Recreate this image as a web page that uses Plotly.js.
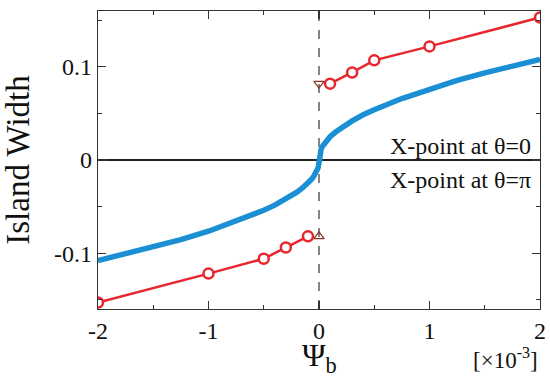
<!DOCTYPE html>
<html>
<head>
<meta charset="utf-8">
<script src="https://cdn.plot.ly/plotly-3.0.1.min.js"></script>
<style>html,body{margin:0;padding:0;background:#fff;}#plot{width:550px;height:377px;}</style>
</head>
<body>
<div id="plot"></div>
<script>
// Blue curve, x in units of 1e-3
var curveX = [-2.0, -1.75, -1.5, -1.25, -1.0, -0.75, -0.5, -0.4, -0.3, -0.2, -0.15, -0.1, -0.07, -0.05, -0.03, -0.02, -0.01, -0.005, -0.002, -0.001, 0, 0.001, 0.002, 0.005, 0.01, 0.02, 0.03, 0.05, 0.07, 0.1, 0.15, 0.2, 0.3, 0.4, 0.5, 0.75, 1.0, 1.25, 1.5, 1.75, 2.0];
var curveY = [-0.108, -0.101, -0.0935, -0.0855, -0.0765, -0.066, -0.054, -0.0485, -0.042, -0.0345, -0.030, -0.025, -0.021, -0.018, -0.0145, -0.012, -0.009, -0.0065, -0.0042, -0.003, 0, 0.003, 0.0042, 0.0065, 0.009, 0.012, 0.0145, 0.018, 0.021, 0.025, 0.030, 0.0345, 0.042, 0.0485, 0.054, 0.066, 0.0765, 0.0855, 0.0935, 0.101, 0.108];
// Red points: X-point at theta=0 (upper) and theta=pi (lower)
var upperX = [0.1, 0.3, 0.5, 1.0, 2.0];
var upperY = [0.082, 0.094, 0.107, 0.122, 0.153];
var lowerX = [-0.1, -0.3, -0.5, -1.0, -2.0];
var lowerY = [-0.082, -0.094, -0.106, -0.122, -0.153];
// Triangles at psi_b = 0
var triDownX = [0], triDownY = [0.082];
var triUpX = [0], triUpY = [-0.082];
var yTickVals = [-0.1, 0, 0.1];
var yTickText = ['-0.1', '0', '0.1'];
var xTickVals = [-2, -1, 0, 1, 2];
var xTickText = ['-2', '-1', '0', '1', '2'];

var serif = '"Liberation Serif", "Times New Roman", serif';
var red = '#e8262d';
var traces = [
  {x: curveX, y: curveY, mode: 'lines', line: {color: '#1b8fd4', width: 5.5, shape: 'linear'}, hoverinfo: 'skip'},
  {x: upperX, y: upperY, mode: 'lines+markers', line: {color: red, width: 2.5},
   marker: {symbol: 'circle', size: 10, color: '#ffffff', line: {color: red, width: 2.5}}},
  {x: lowerX, y: lowerY, mode: 'lines+markers', line: {color: red, width: 2.5},
   marker: {symbol: 'circle', size: 10, color: '#ffffff', line: {color: red, width: 2.5}}},
  {x: triDownX, y: triDownY, mode: 'markers', marker: {symbol: 'triangle-down-open', size: 9, color: '#8a2f22', line: {width: 1.2}}},
  {x: triUpX, y: triUpY, mode: 'markers', marker: {symbol: 'triangle-up-open', size: 9, color: '#8a2f22', line: {width: 1.2}}}
];

var layout = {
  width: 550, height: 377,
  margin: {l: 98, r: 10, t: 11, b: 68},
  paper_bgcolor: '#fff', plot_bgcolor: '#fff',
  showlegend: false,
  font: {family: serif, color: '#111', size: 24},
  xaxis: {
    range: [-2, 2], tickvals: xTickVals, ticktext: xTickText,
    ticks: 'inside', ticklen: 8, tickwidth: 1.2, tickcolor: '#333',
    minor: {dtick: 0.5, tick0: 0, ticks: 'inside', ticklen: 4, tickcolor: '#333', tickwidth: 1.2},
    showline: true, linecolor: '#333', linewidth: 1.3, mirror: 'ticks',
    showgrid: false, zeroline: false,
    tickfont: {family: serif, size: 24, color: '#111'}
  },
  yaxis: {
    range: [-0.16, 0.16], tickvals: yTickVals, ticktext: yTickText,
    ticks: 'inside', ticklen: 8, tickwidth: 1.2, tickcolor: '#333',
    minor: {dtick: 0.05, tick0: 0, ticks: 'inside', ticklen: 4, tickcolor: '#333', tickwidth: 1.2},
    showline: true, linecolor: '#333', linewidth: 1.3, mirror: 'ticks',
    showgrid: false, zeroline: true, zerolinecolor: '#222', zerolinewidth: 1.2,
    tickfont: {family: serif, size: 24, color: '#111'},
    title: {text: 'Island Width', font: {family: serif, size: 33, color: '#111'}}
  },
  shapes: [
    {type: 'line', xref: 'x', yref: 'paper', x0: 0, x1: 0, y0: 0, y1: 1,
     line: {color: '#444', width: 1.3, dash: 'dash'}, layer: 'below'}
  ],
  annotations: [
    {xref: 'paper', yref: 'paper', x: 0.5, y: -0.162, xanchor: 'center', yanchor: 'middle', showarrow: false,
     borderpad: 0, text: 'Ψ<sub>b</sub>', font: {family: serif, size: 32, color: '#111'}},
    {xref: 'paper', yref: 'y', x: 0.985, y: 0.015, xanchor: 'right', yanchor: 'middle', showarrow: false,
     text: 'X-point at θ=0', font: {family: serif, size: 24, color: '#111'}},
    {xref: 'paper', yref: 'y', x: 0.985, y: -0.022, xanchor: 'right', yanchor: 'middle', showarrow: false,
     text: 'X-point at θ=π', font: {family: serif, size: 24, color: '#111'}},
    {xref: 'paper', yref: 'paper', x: 1.0, y: -0.165, xanchor: 'right', yanchor: 'middle', showarrow: false,
     text: '[×10<sup>-3</sup>]', font: {family: serif, size: 23, color: '#111'}}
  ]
};
Plotly.newPlot('plot', traces, layout, {staticPlot: true, displayModeBar: false});
</script>
</body>
</html>
